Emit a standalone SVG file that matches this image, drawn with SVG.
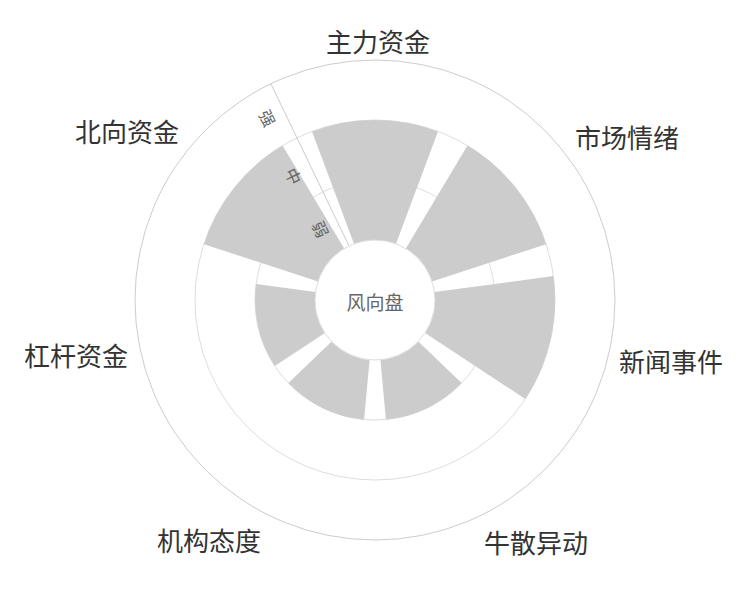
<svg xmlns="http://www.w3.org/2000/svg" width="750" height="600" viewBox="0 0 750 600">
<style>
.ring{fill:none;stroke:#cccccc;stroke-width:1}
.split{fill:none;stroke:#dddddd;stroke-width:1}
.bar{fill:#cccccc}
.cat{font-family:"Noto Sans CJK SC",sans-serif;font-size:26px;fill:#333;text-anchor:middle;dominant-baseline:central}
.rad{font-family:"Noto Sans CJK SC",sans-serif;font-size:16px;fill:#666;text-anchor:middle;dominant-baseline:central}
</style>
<rect width="750" height="600" fill="#fff"/>
<g id="grid">
<circle class="ring" cx="375" cy="300" r="240"/>
<circle class="split" cx="375" cy="300" r="180"/>
<circle class="split" cx="375" cy="300" r="120"/>
<line x1="349" y1="245.9" x2="270.9" y2="83.8" stroke="#cccccc"/>
</g>
<g id="bars">
<path id="bar-zhuli" class="bar" d="M312,131.4 A180,180 0 0 1 438,131.4 L396,243.8 A60,60 0 0 0 354,243.8 Z"/>
<path id="bar-shichang" class="bar" d="M467.5,145.6 A180,180 0 0 1 546.1,244.2 L432,281.4 A60,60 0 0 0 405.8,248.5 Z"/>
<path id="bar-xinwen" class="bar" d="M553.4,276.1 A180,180 0 0 1 525.3,399 L425.1,333 A60,60 0 0 0 434.5,292 Z"/>
<path id="bar-niusan" class="bar" d="M461.6,383.1 A120,120 0 0 1 385.9,419.5 L380.4,359.8 A60,60 0 0 0 418.3,341.5 Z"/>
<path id="bar-jigou" class="bar" d="M364.1,419.5 A120,120 0 0 1 288.4,383.1 L331.7,341.5 A60,60 0 0 0 369.6,359.8 Z"/>
<path id="bar-ganggan" class="bar" d="M274.8,366 A120,120 0 0 1 256.1,284.1 L315.5,292 A60,60 0 0 0 324.9,333 Z"/>
<path id="bar-beixiang" class="bar" d="M203.9,244.2 A180,180 0 0 1 282.5,145.6 L344.2,248.5 A60,60 0 0 0 318,281.4 Z"/>
</g>
<g id="center">
<circle cx="375" cy="300" r="60" fill="#fff" stroke="#dddddd"/>
<text class="rad" x="375" y="301" style="font-size:19px">风向盘</text>
</g>
<g id="radial-labels">
<text class="rad" transform="translate(268,118) rotate(64.3)">强</text>
<text class="rad" transform="translate(294,176) rotate(64.3)">中</text>
<text class="rad" transform="translate(321,229) rotate(64.3)">弱</text>
</g>
<g id="labels">
<text class="cat" x="378" y="40">主力资金</text>
<text class="cat" x="627" y="136">市场情绪</text>
<text class="cat" x="671" y="360">新闻事件</text>
<text class="cat" x="536" y="541">牛散异动</text>
<text class="cat" x="209" y="539">机构态度</text>
<text class="cat" x="76" y="354">杠杆资金</text>
<text class="cat" x="127" y="130">北向资金</text>
</g>
</svg>
